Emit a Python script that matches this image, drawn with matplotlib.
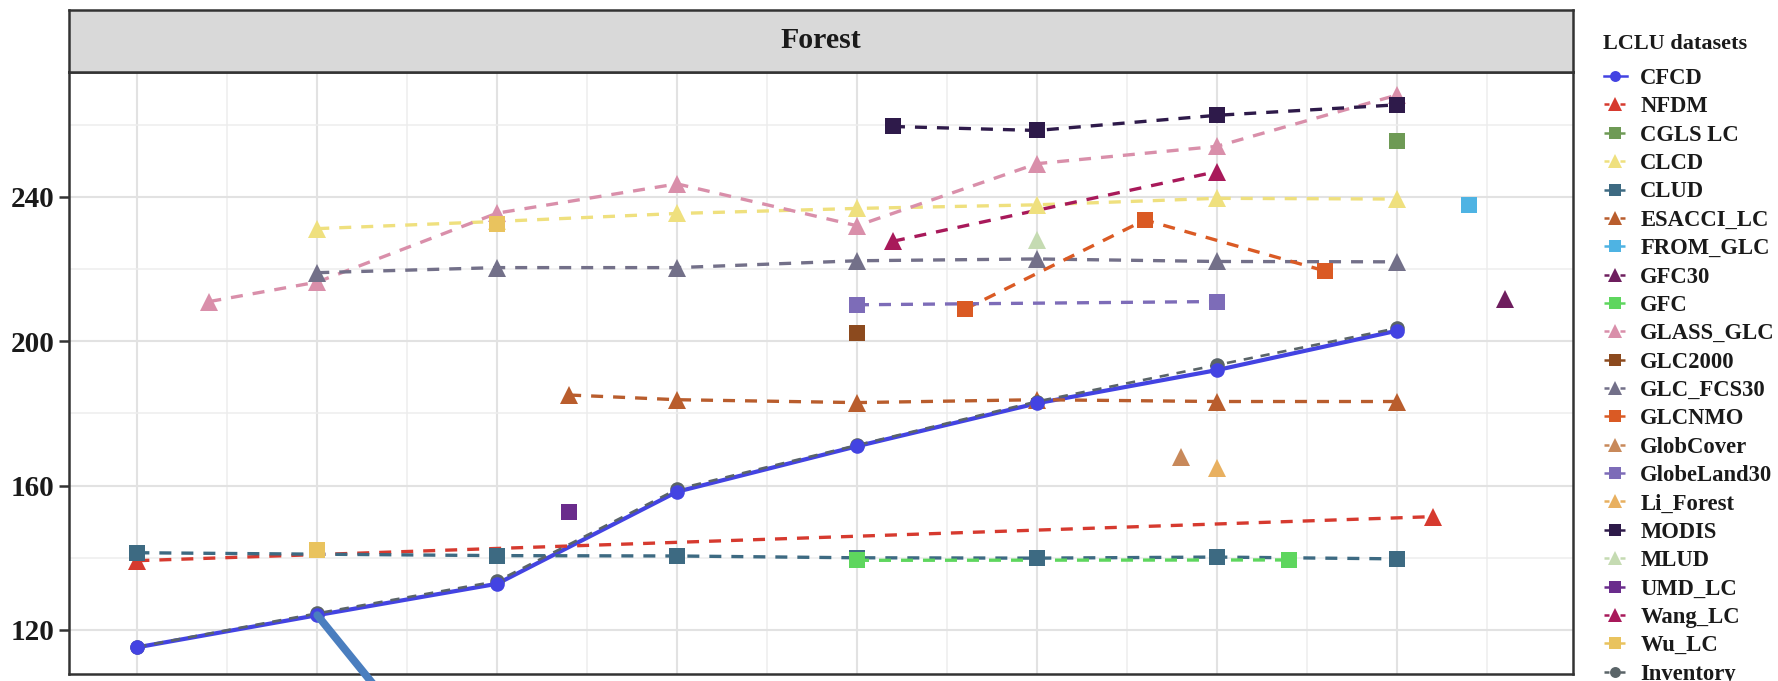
import matplotlib
matplotlib.use("Agg")
import matplotlib.pyplot as plt
from matplotlib.lines import Line2D
from matplotlib.ticker import MultipleLocator, FixedLocator

plt.rcParams['font.family'] = ['Liberation Serif', 'DejaVu Serif']
plt.rcParams['font.weight'] = 'bold'

# ---- forest area (million ha) by dataset and year ----
cfcd_years = [1980, 1985, 1990, 1995, 2000, 2005, 2010, 2015]
cfcd_vals = [115.2, 124.1, 132.8, 158.3, 170.9, 182.8, 192.0, 202.9]

nfdm_years = [1980, 2016]
nfdm_vals = [139.2, 151.4]

cgls_years = [2015]
cgls_vals = [255.5]

clcd_years = [1985, 1990, 1995, 2000, 2005, 2010, 2015]
clcd_vals = [231.2, 233.2, 235.4, 236.8, 237.8, 239.6, 239.4]

clud_years = [1980, 1990, 1995, 2000, 2005, 2010, 2015]
clud_vals = [141.4, 140.6, 140.5, 140.0, 139.9, 140.2, 139.7]

esacci_years = [1992, 1995, 2000, 2005, 2010, 2015]
esacci_vals = [185.1, 183.8, 183.0, 183.8, 183.3, 183.3]

fromglc_years = [2017]
fromglc_vals = [237.8]

gfc30_years = [2018]
gfc30_vals = [211.8]

gfc_years = [2000, 2012]
gfc_vals = [139.3, 139.4]

glass_years = [1982, 1985, 1990, 1995, 2000, 2005, 2010, 2015]
glass_vals = [211.0, 216.4, 235.5, 243.6, 232.0, 249.2, 254.0, 268.2]

glc2000_years = [2000]
glc2000_vals = [202.2]

fcs30_years = [1985, 1990, 1995, 2000, 2005, 2010, 2015]
fcs30_vals = [219.0, 220.4, 220.4, 222.3, 222.8, 222.1, 222.0]

glcnmo_years = [2003, 2008, 2013]
glcnmo_vals = [208.9, 233.6, 219.5]

globcover_years = [2009]
globcover_vals = [168.0]

globeland_years = [2000, 2010]
globeland_vals = [210.1, 211.0]

liforest_years = [2010]
liforest_vals = [164.9]

modis_years = [2001, 2005, 2010, 2015]
modis_vals = [259.5, 258.4, 262.6, 265.5]

mlud_years = [2005]
mlud_vals = [228.0]

umd_years = [1992]
umd_vals = [152.8]

wang_years = [2001, 2010]
wang_vals = [227.7, 247.0]

wu_years = [1985, 1990]
wu_vals = [142.2, 232.5]

inventory_years = [1980, 1985, 1990, 1995, 2000, 2005, 2010, 2015]
inventory_vals = [115.3, 124.6, 133.5, 159.0, 171.2, 183.3, 193.4, 203.6]

series = [
    ("CFCD", cfcd_years, cfcd_vals),
    ("NFDM", nfdm_years, nfdm_vals),
    ("CGLS LC", cgls_years, cgls_vals),
    ("CLCD", clcd_years, clcd_vals),
    ("CLUD", clud_years, clud_vals),
    ("ESACCI_LC", esacci_years, esacci_vals),
    ("FROM_GLC", fromglc_years, fromglc_vals),
    ("GFC30", gfc30_years, gfc30_vals),
    ("GFC", gfc_years, gfc_vals),
    ("GLASS_GLC", glass_years, glass_vals),
    ("GLC2000", glc2000_years, glc2000_vals),
    ("GLC_FCS30", fcs30_years, fcs30_vals),
    ("GLCNMO", glcnmo_years, glcnmo_vals),
    ("GlobCover", globcover_years, globcover_vals),
    ("GlobeLand30", globeland_years, globeland_vals),
    ("Li_Forest", liforest_years, liforest_vals),
    ("MODIS", modis_years, modis_vals),
    ("MLUD", mlud_years, mlud_vals),
    ("UMD_LC", umd_years, umd_vals),
    ("Wang_LC", wang_years, wang_vals),
    ("Wu_LC", wu_years, wu_vals),
    ("Inventory", inventory_years, inventory_vals),
]

y_ticks = [120, 160, 200, 240]

# ---- styles ----
colors = {
    "CFCD": "#4343E2", "NFDM": "#D63A2F", "CGLS LC": "#6E9A55",
    "CLCD": "#EFE07E", "CLUD": "#3D6A82", "ESACCI_LC": "#B95D2D",
    "FROM_GLC": "#4EB3E3", "GFC30": "#6E1E5E", "GFC": "#5ED65E",
    "GLASS_GLC": "#D98FAA", "GLC2000": "#8C4A1E", "GLC_FCS30": "#737089",
    "GLCNMO": "#DA5A24", "GlobCover": "#C8895A", "GlobeLand30": "#7D6CB8",
    "Li_Forest": "#E8B060", "MODIS": "#2E1A4A", "MLUD": "#C5DBB2",
    "UMD_LC": "#6A2C8C", "Wang_LC": "#A8195A", "Wu_LC": "#E9C35E",
    "Inventory": "#5A6468",
}
triangles = {"NFDM", "CLCD", "ESACCI_LC", "GFC30", "GLASS_GLC", "GLC_FCS30",
             "GlobCover", "Li_Forest", "MLUD", "Wang_LC"}
circles = {"CFCD", "Inventory"}
unconnected = {"Wu_LC"}


def marker_of(name):
    if name in circles:
        return "o"
    if name in triangles:
        return "^"
    return "s"


def msize_of(name):
    return {"o": 10.5, "^": 13, "s": 11.5}[marker_of(name)]


W, H = 1778, 681
fig = plt.figure(figsize=(W / 100, H / 100), dpi=100)
ax = fig.add_axes([69 / W, (H - 674) / H, (1573 - 69) / W, (674 - 72) / H])
strip = fig.add_axes([69 / W, (H - 72) / H, (1573 - 69) / W, (72 - 10) / H])

dash = (0, (3.6, 3.0))
for name, yrs, vals in series:
    c = colors[name]
    if len(yrs) > 1 and name not in unconnected:
        if name == "CFCD":
            ax.plot(yrs, vals, color=c, lw=3.0, ls="-", zorder=2)
        elif name == "Inventory":
            ax.plot(yrs, vals, color=c, lw=1.9, ls=(0, (3.5, 3.0)), zorder=2.1)
        else:
            ax.plot(yrs, vals, color=c, lw=2.4, ls=dash, zorder=2)
# inventory markers sit under the CFCD markers
point_order = [s for s in series if s[0] != "CFCD"] + [series[0]]
for name, yrs, vals in point_order:
    ax.plot(yrs, vals, ls="none", marker=marker_of(name), ms=msize_of(name),
            color=colors[name], mec=colors[name], mew=0, zorder=3)

ax.set_xlim(1978.1, 2019.9)
ax.set_ylim(107.8, 274.6)
ax.xaxis.set_major_locator(MultipleLocator(5))
ax.xaxis.set_minor_locator(MultipleLocator(2.5))
ax.yaxis.set_major_locator(FixedLocator(y_ticks))
ax.yaxis.set_minor_locator(FixedLocator([140, 180, 220, 260]))
ax.grid(which="major", color="#E2E2E2", lw=1.5)
ax.grid(which="minor", color="#EDEDED", lw=1.1)
ax.set_axisbelow(True)
ax.tick_params(axis="x", which="both", length=0, labelbottom=False)
ax.tick_params(axis="y", which="major", length=7.5, width=1.8, color="#333333",
               labelsize=21, pad=3.0, labelcolor="#1a1a1a")
ax.tick_params(axis="y", which="minor", length=0)
for s in ax.spines.values():
    s.set_color("#333333")
    s.set_linewidth(1.8)

# facet strip
strip.set_facecolor("#D9D9D9")
strip.set_xticks([])
strip.set_yticks([])
for s in strip.spines.values():
    s.set_color("#333333")
    s.set_linewidth(1.8)
strip.text(0.5, 0.5, "Forest", ha="center", va="center", fontsize=21.5,
           fontweight="bold", color="#1a1a1a", transform=strip.transAxes)

# highlight arrow from the 1985 CFCD point
ax.annotate("", xy=(cfcd_years[1], cfcd_vals[1]), xytext=(47, -58),
            textcoords="offset points", annotation_clip=False,
            arrowprops=dict(arrowstyle="-", color="#4A7EBF", lw=5.6,
                            shrinkA=0, shrinkB=0), zorder=6)

# legend
fig.text(1603 / W, 1 - 44 / H, "LCLU datasets", ha="left", va="center",
         fontsize=16, fontweight="bold", color="#1a1a1a")
handles = []
for name, _, _ in series:
    ls = "-" if name == "CFCD" else (0, (2, 1.2))
    handles.append(Line2D([], [], color=colors[name], lw=1.8, ls=ls,
                          marker=marker_of(name), ms=msize_of(name) * 0.75,
                          mew=0))
leg = fig.legend(handles, [s[0] for s in series], loc="upper left",
                 bbox_to_anchor=(1604 / W, 1 - 68 / H), frameon=False,
                 fontsize=16.3, handlelength=1.0, handletextpad=0.6,
                 labelspacing=0.325, borderpad=0, borderaxespad=0)
for t in leg.get_texts():
    t.set_color("#1a1a1a")

fig.savefig("out.png", dpi=100)
